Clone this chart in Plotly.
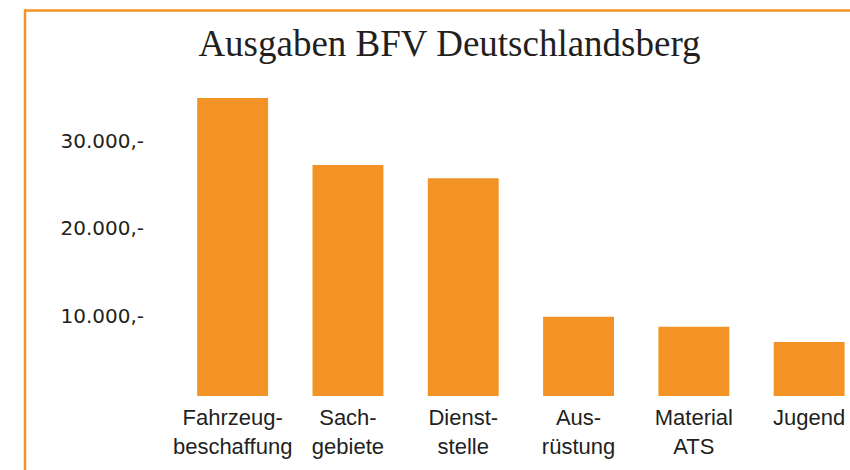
import plotly.graph_objects as go

categories = ["Fahrzeug-<br>beschaffung", "Sach-<br>gebiete", "Dienst-<br>stelle",
              "Aus-<br>rüstung", "Material<br>ATS", "Jugend"]
ausgaben = [34050, 26400, 24900, 9050, 7920, 6170]
tick_values = [10000, 20000, 30000]
tick_labels = ["10.000,-", "20.000,-", "30.000,-"]

ORANGE = "#F39325"
TEXT = "#231F20"
W, H = 850, 470
ML, MR, MT, MB = 175, 0, 60, 74

fig = go.Figure(go.Bar(
    x=categories, y=ausgaben, marker=dict(color=ORANGE, line=dict(width=0)),
    width=0.615,
))

plot_w = W - ML - MR
plot_h = H - MT - MB

def px_x(p):
    return (p - ML) / plot_w

def px_y(p):
    return (H - MB - p) / plot_h

fig.update_layout(
    width=W, height=H,
    margin=dict(l=ML, r=MR, t=MT, b=MB, pad=0),
    paper_bgcolor="white", plot_bgcolor="white",
    showlegend=False,
    bargap=0.385,
    title=dict(text="Ausgaben BFV Deutschlandsberg",
               font=dict(family="Liberation Serif", size=37, color=TEXT),
               x=449.5 / W, xanchor="center", xref="container",
               y=1 - 43 / H, yanchor="middle", yref="container"),
    xaxis=dict(range=[-0.5, -0.5 + plot_w / 115.3], showline=False, showgrid=False,
               zeroline=False, ticks="", ticklabelstandoff=6,
               tickfont=dict(family="Liberation Sans", size=22, color=TEXT)),
    yaxis=dict(range=[0, plot_h / 8.75 * 1000], showline=False, showgrid=False,
               zeroline=False, ticks="", tickvals=tick_values, ticktext=tick_labels,
               ticklabelstandoff=30, ticklabelshift=7,
               tickfont=dict(family="DejaVu Sans", size=20, color=TEXT)),
    shapes=[
        dict(type="line", xref="paper", yref="paper",
             x0=px_x(25), x1=px_x(W + 2), y0=px_y(10.5), y1=px_y(10.5),
             line=dict(color=ORANGE, width=2.5)),
        dict(type="line", xref="paper", yref="paper",
             x0=px_x(25), x1=px_x(25), y0=px_y(9.3), y1=px_y(H + 2),
             line=dict(color=ORANGE, width=2.5)),
    ],
)

fig.write_html("out.html", config={"displayModeBar": False},
               post_script="document.body.style.margin='0';document.body.style.overflow='hidden';")
